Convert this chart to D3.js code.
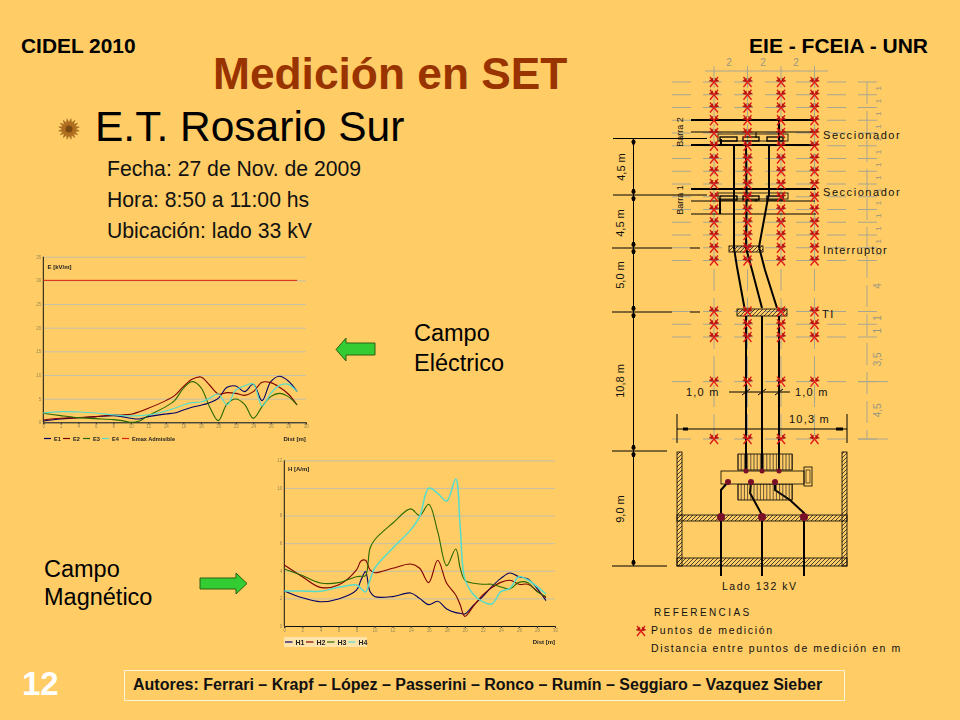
<!DOCTYPE html>
<html><head><meta charset="utf-8">
<script src="https://cdn.jsdelivr.net/npm/d3@7/dist/d3.min.js"></script>
<style>html,body{margin:0;padding:0;background:#FFCC66}svg{display:block}text{font-family:"Liberation Sans",Arial,sans-serif}</style>
</head><body><svg id="s" width="960" height="720"></svg>
<script>
// ---- electric field chart
const eDist=[0,2,4,6,8,9,10,11,12,14,15,16,17,18,19,20,21,22,23,24,25,26,27,28,29];
const e1=[0.28,0.70,0.99,1.20,1.41,1.20,0.84,0.70,1.20,1.76,1.97,2.60,3.17,3.59,4.15,5.07,7.39,7.67,6.48,8.03,4.58,8.59,9.72,8.73,6.48];
const e2=[0.49,0.84,0.99,1.20,1.55,1.55,1.69,2.25,2.96,4.58,5.63,7.53,9.08,9.57,7.88,5.98,6.27,6.12,5.70,6.48,8.45,8.38,7.39,5.98,3.66];
const e3=[1.90,1.41,0.99,0.77,0.56,0.35,0,0.28,1.41,3.31,4.58,7.18,8.59,7.39,3.31,0.35,3.87,4.93,3.80,0.84,3.31,5.42,6.12,5.42,3.66];
const e4=[1.97,2.25,2.18,1.97,1.55,1.41,1.34,1.41,1.55,2.39,2.96,3.66,4.15,4.29,5.07,5.98,3.66,6.83,7.67,8.10,3.45,6.12,7.81,8.03,6.48];
const eLimit=30;
const eYTicks=[0,5,10,15,20,25,30,35];
// ---- magnetic field chart
const hDist=[0,2,4,6,8,8.5,9,9.5,10,12,14,15,16,17,18,19,19.5,20,21,22,23,24,25,26,27,28,29];
const h1=[2.54,2.05,1.76,1.96,2.6,3.33,3.94,2.49,2.13,2.13,2.39,2.0,1.55,1.79,1.23,0.97,0.92,0.87,1.52,2.13,2.85,3.45,3.84,3.57,3.41,2.73,1.84];
const h2=[4.42,3.57,2.8,2.97,4.06,4.71,4.76,4.06,3.86,4.18,4.49,4.18,3.14,4.76,3.09,2.25,1.52,0.70,1.47,2.25,2.78,3.16,3.31,3.02,3.02,2.54,2.05];
const h3=[4.13,3.65,3.12,3.14,3.57,3.6,3.65,5.63,6.23,7.44,8.48,8.0,8.82,6.84,4.37,5.58,4.18,3.33,3.09,3.02,3.02,2.83,2.68,3.16,3.14,2.49,2.13];
const h4=[2.54,2.54,2.51,2.8,2.97,2.73,2.46,3.33,4.18,5.63,6.96,7.92,9.98,9.61,9.06,10.65,7.08,3.45,2.25,1.76,1.59,2.49,2.73,3.57,3.33,2.85,2.32];
const hYTicks=[0,2,4,6,8,10,12];
const distTicks=d3.range(0,31,2);
const eNames=["E1","E2","E3","E4","Emax Admisible"];
const hNames=["H1","H2","H3","H4"];
const seriesColors=["#000066","#800000","#2A6A00","#55DDCC","#E02000"];
// ---- substation plan
const rowMetres=[0,1,2,3,4,5,6,7,8,9,10,11,12,13,14,18,19,20,23.5,28];
const colMetres=[0,2,4,6];
const rightDims=[[0.5,"1"],[1.5,"1"],[2.5,"1"],[3.5,"1"],[4.5,"1"],[5.5,"1"],[6.5,"1"],[7.5,"1"],[8.5,"1"],[9.5,"1"],[10.5,"1"],[11.5,"1"],[12.5,"1"],[13.5,"1"],[16,"4"],[18.5,"1"],[19.5,"1"],[21.75,"3,5"],[25.75,"4,5"]];

const svg=d3.select("#s");
const defs=svg.append("defs");
defs.append("filter").attr("id","soft").append("feGaussianBlur").attr("stdDeviation",0.35);
const hat=defs.append("pattern").attr("id","hatch").attr("width",4).attr("height",4).attr("patternUnits","userSpaceOnUse");
hat.append("path").attr("d",d3.line()([[0,4],[4,0]])).attr("stroke","#222").attr("stroke-width",.8);
svg.append("rect").attr("width",960).attr("height",720).attr("fill","#FFCC66");

function chart(o){
  const x=d3.scaleLinear().domain([0,30]).range(o.xr), y=d3.scaleLinear().domain(o.yd).range(o.yr);
  const g=svg.append("g");
  const yA=g.append("g").attr("transform",`translate(${o.xr[0]},0)`)
    .call(d3.axisLeft(y).tickValues(o.yt).tickSize(-(o.xr[1]-o.xr[0])).tickPadding(2));
  yA.select(".domain").remove();
  yA.selectAll("line").attr("stroke","#C4C0A8").attr("stroke-width",1);
  yA.selectAll("text").attr("font-size",4.5).attr("fill","#9a8850").attr("filter","url(#soft)");
  const xA=g.append("g").attr("transform",`translate(0,${o.yr[0]})`)
    .call(d3.axisBottom(x).tickValues(distTicks).tickSize(2).tickPadding(1));
  xA.selectAll("line").attr("stroke","#333");
  xA.select(".domain").attr("stroke","#111").attr("stroke-width",1);
  xA.selectAll("text").attr("font-size",4.5).attr("fill","#9a8850").attr("filter","url(#soft)");
  g.append("line").attr("x1",o.xr[0]).attr("x2",o.xr[0]).attr("y1",o.yr[0]).attr("y2",o.yr[1]).attr("stroke","#111").attr("stroke-width",1);
  const line=d3.line().x(d=>x(d[0])).y(d=>y(d[1])).curve(d3.curveCatmullRom.alpha(.5));
  o.series.forEach((s,i)=>{
    g.append("path").attr("fill","none").attr("stroke",seriesColors[i]).attr("stroke-width",o.w[i])
     .attr("d",line(o.dist.map((d,k)=>[d,s[k]])));
  });
  if(o.limit!==undefined) g.append("line").attr("x1",x(0)).attr("x2",x(29)).attr("y1",y(o.limit)).attr("y2",y(o.limit)).attr("stroke",seriesColors[4]).attr("stroke-width",1);
  g.append("text").attr("x",o.unit[1]).attr("y",o.unit[2]).text(o.unit[0]).attr("font-size",6).attr("font-weight","bold").attr("fill","#222").attr("filter","url(#soft)");
  g.append("text").attr("x",o.xr[1]).attr("y",o.distY).attr("text-anchor","end").text("Dist [m]").attr("font-size",6).attr("font-weight","bold").attr("fill","#222").attr("filter","url(#soft)");
  if(o.legBg) g.append("rect").attr("x",o.legBg[0]).attr("y",o.legBg[1]).attr("width",o.legBg[2]).attr("height",o.legBg[3]).attr("fill","#FFE3A8");
  o.names.forEach((n,i)=>{
    const lx=o.legX[i];
    g.append("line").attr("x1",lx).attr("x2",lx+o.legLen).attr("y1",o.legY).attr("y2",o.legY).attr("stroke",seriesColors[i]).attr("stroke-width",1.2);
    g.append("text").attr("x",lx+o.legLen+3).attr("y",o.legY+2.5).text(n).attr("font-size",o.legFont).attr("font-weight","bold").attr("fill","#222").attr("filter","url(#soft)");
  });
}
chart({xr:[43.3,305.8],yd:[0,35],yr:[422.3,256.7],yt:eYTicks,dist:eDist,series:[e1,e2,e3,e4],w:[1.1,1.1,1.1,1.2],limit:eLimit,
  unit:["E [kV/m]",47.5,268.5],distY:441,names:eNames,legX:[44,63,83,102,122],legLen:7,legY:438.5,legFont:5.6});
chart({xr:[284.3,555],yd:[0,12],yr:[626,460.3],yt:hYTicks,dist:hDist,series:[h1,h2,h3,h4],w:[1.1,1.1,1.1,1.5],
  unit:["H [A/m]",288,470.5],distY:644,names:hNames,legX:[285,306,327,348],legLen:7.5,legY:642,legFont:7,legBg:[284,637,83,10]});

// ---- text
const T=(t,x,y,size,opt={})=>svg.append("text").attr("x",x).attr("y",y).text(t).attr("font-size",size)
  .attr("font-weight",opt.b?"bold":"normal").attr("fill",opt.c||"#000").attr("text-anchor",opt.a||"start")
  .attr("letter-spacing",opt.ls||0);
T("CIDEL 2010",21,52.5,20.9,{b:1});
T("EIE - FCEIA - UNR",928,52.5,21,{b:1,a:"end"});
T("Medición en SET",213,89,44.3,{b:1,c:"#993300"});
T("E.T. Rosario Sur",95,141,42.5);
T("Fecha: 27 de Nov. de 2009",107,176,21.2,{c:"#111"});
T("Hora: 8:50 a 11:00 hs",107,207,21.2,{c:"#111"});
T("Ubicación: lado 33 kV",107,238,21.2,{c:"#111"});
T("Campo",414,341,23.5);T("Eléctrico",414,371,23.5);
T("Campo",44,577,23.5);T("Magnético",44,605,23.5);
T("12",22,695,33,{b:1,c:"#fff"});
svg.append("rect").attr("x",124.5).attr("y",670.5).attr("width",720).attr("height",30).attr("fill","none").attr("stroke","#FFF4D8").attr("stroke-width",1);
T("Autores: Ferrari – Krapf – López – Passerini – Ronco – Rumín – Seggiaro – Vazquez Sieber",133,690,16,{b:1,c:"#111"});

// bullet
const bulletRadii=d3.range(0,32).map(i=>i%2?10.5:6.5);
svg.append("path").attr("transform","translate(69,129)").attr("fill","#B06E1E").attr("stroke","#8A5A1A").attr("stroke-width",.4)
  .attr("d",d3.lineRadial().angle((d,i)=>i/32*2*Math.PI).radius(d=>d).curve(d3.curveLinearClosed)(bulletRadii));
svg.append("circle").attr("cx",69).attr("cy",129).attr("r",3.5).attr("fill","#7A4A12");

// arrows
const arrow=(pts)=>svg.append("path").attr("fill","#33CC33").attr("stroke","#2F5F10").attr("stroke-width",1).attr("d",d3.line().curve(d3.curveLinearClosed)(pts));
arrow([[336,349.5],[346,338],[346,343],[375,343],[375,355],[346,355],[346,361]]);
arrow([[247,583.5],[236,573],[236,578],[200,578],[200,589],[236,589],[236,594]]);

// ---- plan: lengths in metres for the measurement grid, plan units elsewhere
const xM=d3.scaleLinear().domain([0,6]).range([714,814.5]);
const yM=d3.scaleLinear().domain([0,28]).range([82,439]);
const pX=d3.scaleLinear().domain([0,360]).range([600,960]);
const pY=d3.scaleLinear().domain([0,670]).range([50,720]);
const P=s=>s.map(d=>[pX(d[0]),pY(d[1])]);
const plan=svg.append("g");
const grey="#A8A690";
// grid
rowMetres.forEach(r=>{
  plan.append("line").attr("x1",pX(72)).attr("x2",pX(277)).attr("y1",yM(r)).attr("y2",yM(r)).attr("stroke",grey).attr("stroke-dasharray","19,12");
  if(r>=23) plan.append("line").attr("x1",pX(258)).attr("x2",pX(288)).attr("y1",yM(r)).attr("y2",yM(r)).attr("stroke",grey);
});
colMetres.forEach(c=>{
  plan.append("line").attr("x1",xM(c)).attr("x2",xM(c)).attr("y1",pY(16)).attr("y2",yM(28)).attr("stroke",grey).attr("stroke-dasharray","22,7");
});
plan.append("line").attr("x1",pX(267)).attr("x2",pX(267)).attr("y1",yM(0)).attr("y2",yM(28)).attr("stroke",grey).attr("stroke-dasharray","22,7");
plan.append("line").attr("x1",pX(105)).attr("x2",pX(228)).attr("y1",pY(21)).attr("y2",pY(21)).attr("stroke",grey);
[129,163,196].forEach(px=>plan.append("text").attr("x",pX(px)).attr("y",pY(16)).attr("text-anchor","middle").text("2").attr("font-size",10).attr("fill","#999680"));
rightDims.forEach(d=>{
  const big=d[1]!=="1"||d[0]>14;
  plan.append("text").attr("transform",`translate(${pX(281)},${yM(d[0])}) rotate(-90)`).attr("text-anchor","middle").text(d[1]).attr("font-size",big?10:8).attr("fill","#999680");
});
// black segments
const thick=[[91,70,216,70],[91,95,216,95],[91,139,216,139],[179,70,179,90],[120,149,120,164],[121,89,121,95]];
const thin=[[91,82,215,82],[91,151,215,151],[91,164,216,164],[156,82,156,88],[156,149,156,152],
 [13,88.5,107,88.5],[13,145,107,145],[12,198,72,198],[90,198,100,198],[12,262,72,262],[90,262,100,262],[12,401,67,401],[12,516,67,516],
 [33.5,88.5,33.5,516],[129,342,190,342],[142,345,150,339],[158,345,166,339],[175,345,183,339],
 [77,379,247,379],[77,364,77,393],[247,364,247,393]];
const seg=(list,w)=>plan.selectAll(null).data(list).join("line").attr("x1",d=>pX(d[0])).attr("y1",d=>pY(d[1])).attr("x2",d=>pX(d[2])).attr("y2",d=>pY(d[3])).attr("stroke","#000").attr("stroke-width",w);
seg(thin,1);seg(thick,2);seg([[83,379,88,379],[236,379,243,379]],3);
// dimension arrowheads
const arrowDown=[[33.5,88.5,1],[33.5,145,-1],[33.5,145,1],[33.5,198,-1],[33.5,198,1],[33.5,262,-1],[33.5,262,1],[33.5,401,-1],[33.5,401,1],[33.5,516,-1]];
plan.selectAll(null).data(arrowDown).join("path").attr("fill","#000")
 .attr("d",d=>d3.line()(P([[d[0],d[1]],[d[0]-2.2,d[1]+d[2]*3],[d[0]-1.2,d[1]+d[2]*6],[d[0]+1.2,d[1]+d[2]*6],[d[0]+2.2,d[1]+d[2]*3]]))+"Z");
// conductors
const conductors=[
 [[134,95],[134,198],[137,217],[144.5,258]],
 [[146,95],[146.5,150],[146,198],[152,220],[162,258]],
 [[169,95],[169,145],[168,148],[159,197],[165,220],[177,258]],
 [[146,266],[146,422]],[[162,266],[162,422]],[[179,266],[179,422]],
 [[121,526],[121,440],[128,432]],
 [[162,526],[162,465],[150,443],[151,432]],
 [[204,526],[204,463],[190,450],[175,440],[175,432]]];
plan.selectAll(null).data(conductors).join("path").attr("fill","none").attr("stroke","#000").attr("stroke-width",2).attr("d",d=>d3.line()(P(d)));
// boxes
const box=(r,fill,w)=>plan.append("rect").attr("x",pX(r[0])).attr("y",pY(r[1])).attr("width",pX(r[2])-pX(r[0])).attr("height",pY(r[3])-pY(r[1])).attr("fill",fill).attr("stroke","#000").attr("stroke-width",w);
[[118,84,188,91],[118,143,188,149]].forEach(r=>box(r,"none",.8));
[[120,87,137,91],[143,87,159,91],[167,87,183,91],[120,146,137,150],[143,146,159,150],[167,146,183,150]].forEach(r=>box(r,"none",1.3));
[[129,196,163,202],[137,259,187,266]].forEach(r=>box(r,"url(#hatch)",.8));
[[77,402,82,516],[242,402,247,516],[77,508,247,516],[77,465,247,471]].forEach(r=>box(r,"url(#hatch)",.8));
// transformer
const ribs=d3.range(138,193,3.2);
[[404,420],[434,450]].forEach(b=>{
  plan.selectAll(null).data(ribs).join("line").attr("x1",d=>pX(d)).attr("x2",d=>pX(d)).attr("y1",pY(b[0])).attr("y2",pY(b[1])).attr("stroke","#222").attr("stroke-width",.7);
  box([138,b[0],192,b[1]],"none",.8);
});
box([121,421,204,434],"#FFCC66",.8);box([204,417,212,436],"none",.8);box([206,420,210,433],"none",.6);
// dots
const dots=[[146,421,2.5],[162,421,2.5],[179,421,2.5],[128,432,3],[151,432,3],[175,432,3],[121,467,4],[162,467,4],[204,467,4]];
plan.selectAll(null).data(dots).join("circle").attr("cx",d=>pX(d[0])).attr("cy",d=>pY(d[1])).attr("r",d=>d[2]).attr("fill","#7A1028");
// measurement points
const markPath="M-4,-5L4,5M4,-5L-4,5";
const wings="M-5,-1L-1,-4L-1.5,0ZM5,-1L1,-4L1.5,0Z";
const mark=(x,y)=>{
  const g=plan.append("g").attr("transform",`translate(${x},${y})`);
  g.append("path").attr("d",markPath).attr("stroke","#E01818").attr("stroke-width",1.3).attr("fill","none");
  g.append("path").attr("d",wings).attr("fill","#C01010").attr("stroke","#801010").attr("stroke-width",.3);
};
rowMetres.forEach(r=>colMetres.forEach(c=>mark(xM(c),yM(r))));
mark(pX(41),pY(581));
// plan text
const L=(t,x,y,size,ls,c)=>plan.append("text").attr("x",pX(x)).attr("y",pY(y)).text(t).attr("font-size",size).attr("letter-spacing",ls).attr("fill",c||"#111");
const R=(t,x,y,size)=>plan.append("text").attr("transform",`translate(${pX(x)},${pY(y)}) rotate(-90)`).attr("text-anchor","middle").text(t).attr("font-size",size).attr("fill","#111");
L("Seccionador",223,89,11,1.55);L("Seccionador",223,146,11,1.55);L("Interruptor",223,204,11,1.3);L("TI",222,268,11,1.5);
R("Barra 2",83,82,9);R("Barra 1",83,150,9);
R("4,5 m",25,117,11);R("4,5 m",24,173,11);R("5,0 m",24,225,11);R("10,8 m",24,331,11);R("9,0 m",24,459,11);
L("1,0 m",86,346,11,1.2);L("1,0 m",195,346,11,1.2);L("10,3 m",189,373,11,1.2);
L("Lado 132 kV",122,540,10.5,1.5);
L("REFERENCIAS",54,566,10,2.4);
L("Puntos de medición",51,584,10.5,1.7);
L("Distancia entre puntos de medición en m",51,602,10.5,1.55);
</script></body></html>
